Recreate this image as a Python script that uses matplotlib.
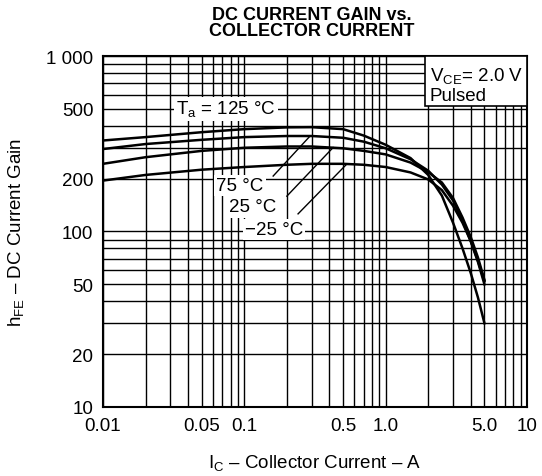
import numpy as np
import matplotlib
matplotlib.use("Agg")
import matplotlib.pyplot as plt
from matplotlib.ticker import FixedLocator, NullFormatter
from matplotlib.patches import Rectangle

plt.rcParams["font.family"] = ["Liberation Sans", "DejaVu Sans"]
plt.rcParams["mathtext.fontset"] = "custom"
plt.rcParams["mathtext.rm"] = "Liberation Sans"

# collector current (A)
ic = [0.01, 0.02, 0.05, 0.1, 0.2, 0.3, 0.5, 0.7, 1.0, 1.5, 2.0, 2.5, 3.0, 3.5, 4.0, 4.5, 5.0]

# DC current gain per ambient temperature
hfe_125 = [330, 345, 368, 383, 392, 393, 383, 352, 312, 262, 210, 160, 112, 80, 58, 42, 30]
hfe_75 = [295, 315, 333, 345, 350, 350, 342, 325, 298, 258, 222, 185, 150, 115, 88, 68, 52]
hfe_25 = [243, 265, 288, 300, 305, 305, 298, 288, 275, 247, 218, 190, 155, 120, 93, 71, 53]
hfe_m25 = [195, 210, 225, 233, 240, 243, 243, 240, 233, 217, 198, 172, 140, 112, 88, 67, 50]

x_ticks = [0.01, 0.05, 0.1, 0.5, 1.0, 5.0, 10]
x_labels = ["0.01", "0.05", "0.1", "0.5", "1.0", "5.0", "10"]
y_ticks = [10, 20, 50, 100, 200, 500, 1000]
y_labels = ["10", "20", "50", "100", "200", "500", "1 000"]

fig = plt.figure(figsize=(5.42, 4.77), dpi=100)
ax = fig.add_axes([0.19, 0.1447, 0.7823, 0.7358])

ax.set_xscale("log")
ax.set_yscale("log")
ax.set_xlim(0.01, 10)
ax.set_ylim(10, 1000)

# every 1..9 subdivision gets a grid line
x_grid = [m * 10.0 ** d for d in (-2, -1, 0) for m in range(1, 10)] + [10]
y_grid = [m * 10.0 ** d for d in (1, 2) for m in range(1, 10)] + [1000]
ax.xaxis.set_minor_locator(FixedLocator(x_grid))
ax.yaxis.set_minor_locator(FixedLocator(y_grid))
ax.xaxis.set_minor_formatter(NullFormatter())
ax.yaxis.set_minor_formatter(NullFormatter())
ax.set_xticks(x_ticks, x_labels)
ax.set_yticks(y_ticks, y_labels)
ax.grid(which="both", color="black", lw=1.0)
ax.tick_params(which="both", length=0, labelsize=13.5, pad=7)
for s in ax.spines.values():
    s.set_linewidth(1.5)

for h in (hfe_125, hfe_75, hfe_25, hfe_m25):
    ax.plot(ic, h, color="black", lw=1.8, zorder=3)

white = dict(facecolor="white", edgecolor="none", pad=1.5)
ax.text(0.074, 500, r"T$_\mathrm{a}$ = 125 °C", fontsize=13.5, ha="center", va="center",
        bbox=white, zorder=4)
ax.text(0.093, 182, "75 °C", fontsize=13.5, ha="center", va="center", bbox=white, zorder=4)
ax.text(0.115, 138, "25 °C", fontsize=13.5, ha="center", va="center", bbox=white, zorder=4)
ax.text(0.162, 103, "\u221225 °C", fontsize=13.5, ha="center", va="center", bbox=white, zorder=4)

# leader lines
ax.plot([0.160, 0.292], [207, 350], color="black", lw=1.0, zorder=3)
ax.plot([0.200, 0.425], [159, 301], color="black", lw=1.0, zorder=3)
ax.plot([0.240, 0.533], [126, 243], color="black", lw=1.0, zorder=3)

# condition box
ax.add_patch(Rectangle((0.759, 0.8575), 0.2410, 0.1425, transform=ax.transAxes,
                       facecolor="white", edgecolor="black", lw=1.2, zorder=5))
ax.text(0.771, 0.943, r"V$_\mathrm{CE}$= 2.0 V", transform=ax.transAxes, fontsize=13.5,
        va="center", ha="left", zorder=6)
ax.text(0.771, 0.887, "Pulsed", transform=ax.transAxes, fontsize=13.5,
        va="center", ha="left", zorder=6)

fig.text(0.576, 0.951, "DC CURRENT GAIN vs.\nCOLLECTOR CURRENT", fontsize=13,
         fontweight="bold", ha="center", va="center", linespacing=0.92)
ax.set_xlabel(r"I$_\mathrm{C}$ – Collector Current – A", fontsize=13.5, labelpad=14)
ax.set_ylabel(r"h$_\mathrm{FE}$ – DC Current Gain", fontsize=13.5, labelpad=14)

fig.savefig("out.png", dpi=100)
